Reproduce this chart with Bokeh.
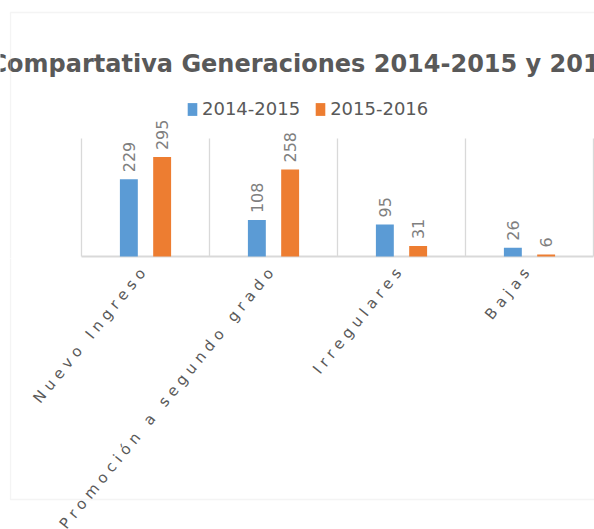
import math
from bokeh.plotting import figure
from bokeh.models import (ColumnDataSource, Range1d, LabelSet, Label,
                          Legend, LegendItem, BoxAnnotation, InlineStyleSheet)
from bokeh.core.properties import value
from bokeh.layouts import column
from bokeh.embed import file_html
from bokeh.resources import INLINE

# ---- data ----
categories = ["Nuevo Ingreso", "Promoción a segundo grado", "Irregulares", "Bajas"]
series_names = ["2014-2015", "2015-2016"]
values_2014_2015 = [229, 108, 95, 26]
values_2015_2016 = [295, 258, 31, 6]
y_axis_max = 350
title_text = "Compartativa Generaciones 2014-2015 y 2015-2016"

BLUE = "#5b9bd5"
ORANGE = "#ed7d31"
GRID = "#d9d9d9"
TEXT = "#595959"
FONT = value("DejaVu Sans")

# ---- geometry (pixels) ----
W = 594
H_TOP = 258
H_BOT = 529 - H_TOP
cat_px = 128.0         # width of one category slot
plot_left_px = 81.0    # left edge of first category
base_px = 256.0        # baseline y
plot_h_px = 118.0      # height for 0..y_axis_max
ppu = plot_h_px / y_axis_max

n = len(categories)
centers = [i + 0.5 for i in range(n)]
off = 0.13
bw = 0.14

x_range = Range1d(-plot_left_px / cat_px, (W - plot_left_px) / cat_px)
y_range = Range1d(-(H_TOP - base_px) / ppu, base_px / ppu)

src = ColumnDataSource(dict(
    xa=[c - off for c in centers],
    xb=[c + off for c in centers],
    a=values_2014_2015,
    b=values_2015_2016,
    ta=[str(v) for v in values_2014_2015],
    tb=[str(v) for v in values_2015_2016],
))
bounds = list(range(n + 1))
sep_src = ColumnDataSource(dict(x=bounds, y0=[0] * len(bounds), y1=[y_axis_max] * len(bounds)))

# ---- main figure ----
p = figure(width=W, height=H_TOP, x_range=x_range, y_range=y_range,
           x_axis_location=None, y_axis_location=None,
           output_backend="svg", toolbar_location=None,
           min_border_left=0, min_border_right=0, min_border_top=0, min_border_bottom=0)
p.grid.visible = False
p.outline_line_color = None
p.background_fill_color = "white"
p.border_fill_color = "white"

p.segment(x0="x", x1="x", y0="y0", y1="y1", source=sep_src, line_color=GRID, line_width=1.3)
p.segment(x0=[bounds[0]], x1=[bounds[-1]], y0=[0], y1=[0], line_color=GRID, line_width=2)

ra = p.vbar(x="xa", top="a", width=bw, source=src, fill_color=BLUE, line_color=None)
rb = p.vbar(x="xb", top="b", width=bw, source=src, fill_color=ORANGE, line_color=None)

for xcol, col, tcol in (("xa", "a", "ta"), ("xb", "b", "tb")):
    p.add_layout(LabelSet(x=xcol, y=col, text=tcol, source=src,
                          angle=math.pi / 2, text_align="left", text_baseline="middle",
                          y_offset=7, text_font=FONT, text_font_size="16px",
                          text_color="#7f7f7f"))

legend = Legend(items=[LegendItem(label=series_names[0], renderers=[ra]),
                       LegendItem(label=series_names[1], renderers=[rb])],
                orientation="horizontal", location=(186, H_TOP - 119),
                glyph_width=12, glyph_height=16, label_standoff=4, spacing=14,
                padding=0, margin=0, border_line_color=None, background_fill_alpha=0,
                label_text_font="DejaVu Sans", label_text_font_size="18px",
                label_text_color=TEXT, label_height=20)
p.add_layout(legend, "center")

p.add_layout(Label(x=-11, y=63, x_units="canvas", y_units="canvas", text=title_text,
                   text_font="DejaVu Sans", text_font_size="24px", text_font_style="bold",
                   text_color=TEXT, text_align="left", text_baseline="alphabetic"))

p.add_layout(BoxAnnotation(left=10, right=2000, top=12, bottom=2000,
                           left_units="canvas", right_units="canvas",
                           top_units="canvas", bottom_units="canvas",
                           fill_alpha=0, line_color=GRID, line_width=1.3))

# ---- lower figure: category labels (letter-spaced) ----
c = figure(width=W, height=H_BOT, x_range=x_range, y_range=Range1d(0, 1),
           x_axis_location=None, y_axis_location=None,
           output_backend="svg", toolbar_location=None,
           min_border_left=0, min_border_right=0, min_border_top=0, min_border_bottom=0)
c.grid.visible = False
c.outline_line_color = None
c.background_fill_color = "white"
c.border_fill_color = "white"
c.stylesheets = [InlineStyleSheet(css=":host { letter-spacing: 5px; direction: rtl; }")]

cat_src = ColumnDataSource(dict(x=centers, name=categories))
c.add_layout(LabelSet(x="x", y=H_BOT - 8, y_units="screen", text="name", source=cat_src,
                      angle=math.radians(51), text_align="left", text_baseline="middle",
                      text_font=FONT, text_font_size="15px", text_color=TEXT))

c.add_layout(BoxAnnotation(left=10, right=2000, top=-100, bottom=499 - H_TOP,
                           left_units="canvas", right_units="canvas",
                           top_units="canvas", bottom_units="canvas",
                           fill_alpha=0, line_color=GRID, line_width=1.3))

layout = column(p, c, spacing=0)
open("out.html", "w").write(file_html(layout, INLINE))
